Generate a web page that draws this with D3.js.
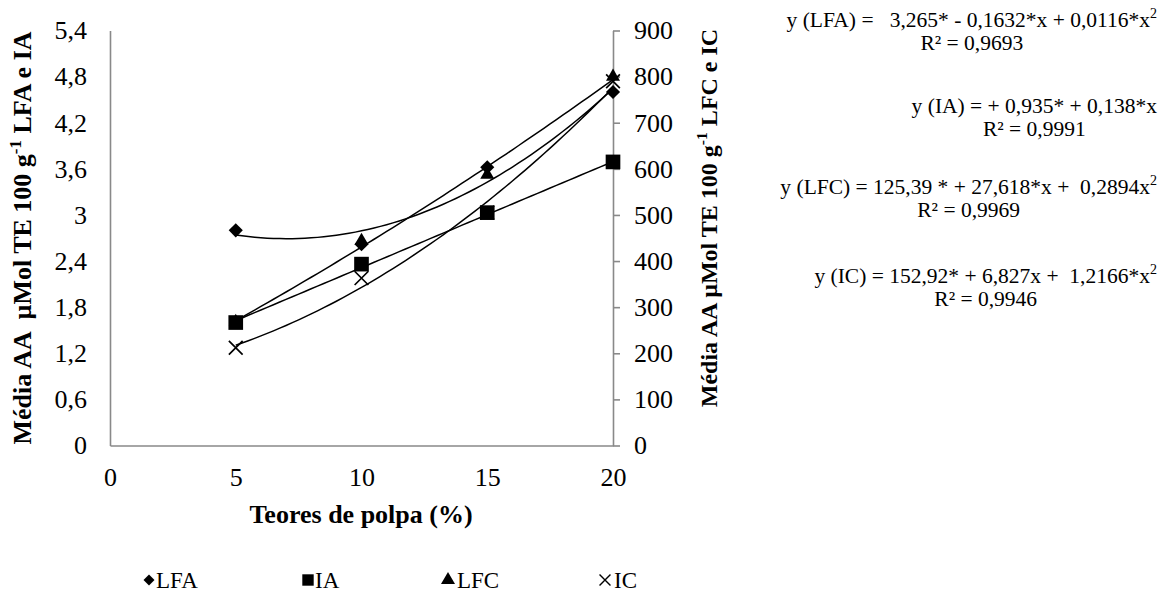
<!DOCTYPE html>
<html>
<head>
<meta charset="utf-8">
<script src="https://cdn.jsdelivr.net/npm/d3@7"></script>
<style>
  body { margin: 0; background: #fff; }
  text { font-family: "Liberation Serif", "Times New Roman", serif; fill: #000; }
</style>
</head>
<body>
<script>
// values
const teores = [5, 10, 15, 20];
const lfa = [2.80, 2.62, 3.62, 4.60];   // left axis
const ia  = [1.60, 2.36, 3.03, 3.69];   // left axis
const lfc = [268, 444, 587, 800];       // right axis
const ic  = [212, 363, 505, 790];       // right axis

const xTicks = [0, 5, 10, 15, 20];
const leftTicks = [0, 0.6, 1.2, 1.8, 2.4, 3, 3.6, 4.2, 4.8, 5.4];
const rightTicks = [0, 100, 200, 300, 400, 500, 600, 700, 800, 900];

// trendline coefficients a + b*x + c*x^2, as printed on the figure
const lfaCoef = [3.265, -0.1632, 0.0116];
const iaCoef  = [0.935, 0.138, 0];
const lfcCoef = [125.39, 27.618, 0.2894];
const icCoef  = [152.92, 6.827, 1.2166];

const eqMain = [
  "y (LFA) =   3,265* - 0,1632*x + 0,0116*x",
  "y (IA) = + 0,935* + 0,138*x",
  "y (LFC) = 125,39 * + 27,618*x +  0,2894x",
  "y (IC) = 152,92* + 6,827x +  1,2166*x"
];
const eqSup = ["2", "", "2", "2"];
const eqR2 = ["R² = 0,9693", "R² = 0,9991", "R² = 0,9969", "R² = 0,9946"];

const legendNames = ["LFA", "IA", "LFC", "IC"];

// layout
const W = 1169, H = 597;
const plot = { left: 110, right: 613, top: 30.5, bottom: 445.5 };
const axisColor = "#898989";

const svg = d3.select("body").append("svg")
  .attr("width", W).attr("height", H);

const x = d3.scaleLinear().domain([0, 20]).range([plot.left, plot.right]);
const yL = d3.scaleLinear().domain([0, 5.4]).range([plot.bottom, plot.top]);
const yR = d3.scaleLinear().domain([0, 900]).range([plot.bottom, plot.top]);

const comma = d => String(d).replace(".", ",");

// axes
const gL = svg.append("g").attr("transform", `translate(${plot.left},0)`)
  .call(d3.axisLeft(yL).tickValues(leftTicks).tickFormat(comma)
    .tickSize(0).tickSizeOuter(0).tickPadding(23));
const gR = svg.append("g").attr("transform", `translate(${plot.right},0)`)
  .call(d3.axisRight(yR).tickValues(rightTicks).tickFormat(comma)
    .tickSize(7).tickSizeOuter(0).tickPadding(14));
const gB = svg.append("g").attr("transform", `translate(0,${plot.bottom})`)
  .call(d3.axisBottom(x).tickValues(xTicks).tickFormat(comma)
    .tickSize(0).tickSizeOuter(0).tickPadding(22));

[gL, gR, gB].forEach(g => {
  g.attr("font-family", null).attr("font-size", null);
  g.selectAll("path.domain").attr("stroke", axisColor).attr("stroke-width", 1.6);
  g.selectAll(".tick line").attr("stroke", axisColor).attr("stroke-width", 1.6);
  g.selectAll("text").style("font-size", "26px").attr("fill", "#000");
});

// axis titles
svg.append("text")
  .attr("x", 361).attr("y", 523)
  .attr("text-anchor", "middle")
  .style("font-size", "26px").style("font-weight", "bold")
  .text("Teores de polpa (%)");

function yTitle(cx, cy, size, head, tail) {
  const t = svg.append("text")
    .attr("transform", `translate(${cx},${cy}) rotate(-90)`)
    .attr("text-anchor", "middle")
    .style("font-size", size + "px").style("font-weight", "bold")
    .style("white-space", "pre");
  t.append("tspan").text(head);
  t.append("tspan").attr("dy", -size * 0.4).style("font-size", (size * 0.65) + "px").text("-1");
  t.append("tspan").attr("dy", size * 0.4).text(" " + tail);
}
yTitle(31, 238, 26, "Média AA  µMol TE 100 g", "LFA e IA");
yTitle(717, 218, 24, "Média AA µMol TE 100 g", "LFC e IC");

// trendlines
const trendX = d3.range(5, 20.001, 0.25);
const poly = (c, v) => c[0] + c[1] * v + c[2] * v * v;
const trends = [
  { coef: lfaCoef, y: yL },
  { coef: iaCoef, y: yL },
  { coef: lfcCoef, y: yR },
  { coef: icCoef, y: yR }
];
trends.forEach(t => {
  svg.append("path")
    .datum(trendX)
    .attr("fill", "none")
    .attr("stroke", "#000")
    .attr("stroke-width", 1.5)
    .attr("d", d3.line().x(v => x(v)).y(v => t.y(poly(t.coef, v))));
});

// markers
const series = [
  { vals: lfa, y: yL, path: d3.symbol(d3.symbolSquare, 100)(), rot: 45, fill: "#000", stroke: "none" },
  { vals: ia, y: yL, path: d3.symbol(d3.symbolSquare, 215)(), rot: 0, fill: "#000", stroke: "none" },
  { vals: lfc, y: yR, path: d3.symbol(d3.symbolTriangle, 85)(), rot: 0, fill: "#000", stroke: "none" },
  { vals: ic, y: yR, path: d3.symbol(d3.symbolX, 125)(), rot: 0, fill: "none", stroke: "#000" }
];
series.forEach(s => {
  svg.append("g").selectAll("path")
    .data(s.vals)
    .join("path")
    .attr("d", s.path)
    .attr("transform", (d, i) => `translate(${x(teores[i])},${s.y(d)}) rotate(${s.rot})`)
    .attr("fill", s.fill)
    .attr("stroke", s.stroke)
    .attr("stroke-width", 1.7);
});

// equations
const eqRight = 1157;
const eqBase = [27, 113, 194, 283];
eqMain.forEach((txt, i) => {
  const t = svg.append("text")
    .attr("x", eqRight).attr("y", eqBase[i])
    .attr("text-anchor", "end")
    .style("font-size", "21.5px")
    .style("white-space", "pre");
  t.append("tspan").text(txt);
  if (eqSup[i]) t.append("tspan").attr("dy", -9).style("font-size", "14px").text(eqSup[i]);
  const w = t.node().getComputedTextLength();
  svg.append("text")
    .attr("x", eqRight - w / 2).attr("y", eqBase[i] + 23)
    .attr("text-anchor", "middle")
    .style("font-size", "21.5px")
    .text(eqR2[i]);
});

// legend
const legendX = [143, 302, 440, 597];
const legendY = 580;
const legendShapes = [
  { path: d3.symbol(d3.symbolSquare, 60)(), rot: 45, fill: "#000", stroke: "none", w: 12 },
  { path: d3.symbol(d3.symbolSquare, 130)(), rot: 0, fill: "#000", stroke: "none", w: 12 },
  { path: d3.symbol(d3.symbolTriangle, 85)(), rot: 0, fill: "#000", stroke: "none", w: 16 },
  { path: d3.symbol(d3.symbolX, 80)(), rot: 0, fill: "none", stroke: "#000", w: 16 }
];
const leg = svg.append("g");
legendNames.forEach((name, i) => {
  const s = legendShapes[i];
  leg.append("path")
    .attr("d", s.path)
    .attr("transform", `translate(${legendX[i] + s.w / 2},${legendY}) rotate(${s.rot})`)
    .attr("fill", s.fill).attr("stroke", s.stroke).attr("stroke-width", 1.4);
  leg.append("text")
    .attr("x", legendX[i] + s.w + 1).attr("y", legendY + 8)
    .style("font-size", "23px")
    .text(name);
});
</script>
</body>
</html>
